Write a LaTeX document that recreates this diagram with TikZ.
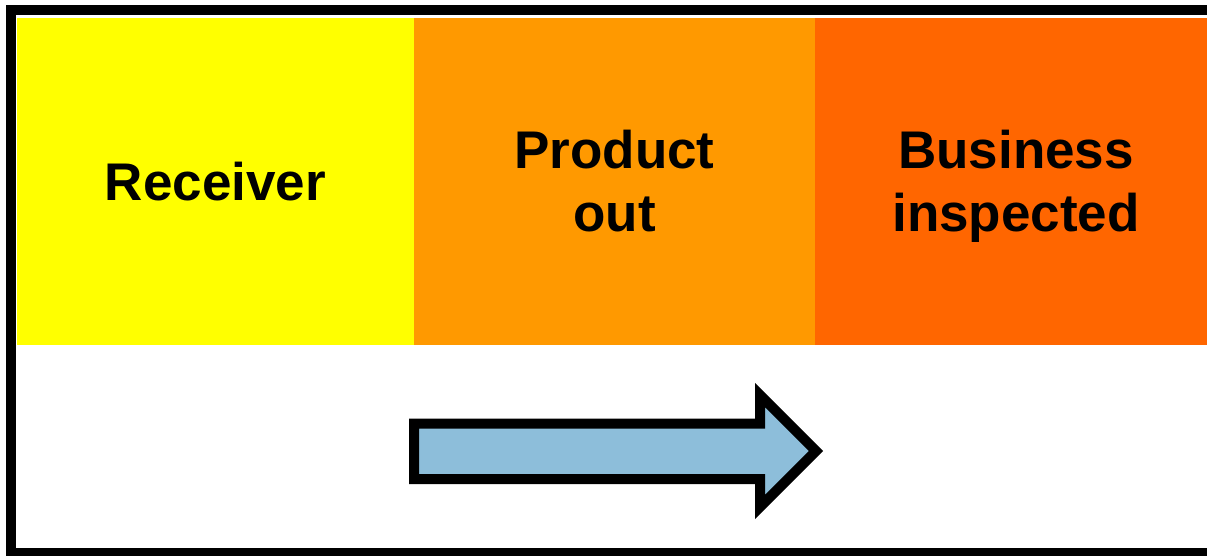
\documentclass[tikz,border=0pt]{standalone}
\usepackage{fontspec}
\setmainfont{Liberation Sans}
\usetikzlibrary{math}
\definecolor{myyellow}{RGB}{255,255,0}
\definecolor{myorange}{RGB}{255,153,0}
\definecolor{myred}{RGB}{255,102,0}
\definecolor{myblue}{RGB}{141,190,218}
\tikzset{
  cell/.style={inner sep=0pt, outer sep=0pt, align=center,
    minimum height=327pt, font=\fontsize{53}{63}\selectfont\bfseries}
}
\newcommand{\uprule}{\rule{0pt}{48pt}}

\begin{document}
\begin{tikzpicture}[x=1pt,y=-1pt]
\tikzmath{
\ytop=18;
\ybot=345;
\xa=17;
\xb=414;
\xc=815;
\xd=1217;
\ym=0.5*(\ytop+\ybot);
\wa=\xb-\xa;
\wb=\xc-\xb;
\wc=\xd-\xc;
}
\useasboundingbox (0,0) rectangle (1207,556);
\clip (0,0) rectangle (1207,556);

%coloured cells
\node[cell, fill=myyellow, minimum width=\wa pt] (recv) at ({0.5*(\xa+\xb)},\ym) {Receiver};
\node[cell, fill=myorange, minimum width=\wb pt] (prod) at ({0.5*(\xb+\xc)},\ym) {\uprule Product\\out\vphantom{p}};
\node[cell, fill=myred, minimum width=\wc pt] (busi) at ({0.5*(\xc+\xd)},\ym) {\uprule Business\\inspected};

%outer frame
\draw[line width=10pt] (11,10.5) rectangle (1225,553);

%block arrow
\coordinate (A1) at (414,423.5);
\coordinate (A2) at (760,423.5);
\coordinate (A3) at (760,395);
\coordinate (A4) at (816,451);
\coordinate (A5) at (760,507);
\coordinate (A6) at (760,479);
\coordinate (A7) at (414,479);
\draw[fill=myblue, line width=10pt, miter limit=10] (A1) -- (A2) -- (A3) -- (A4) -- (A5) -- (A6) -- (A7) -- cycle;
\end{tikzpicture}
\end{document}
